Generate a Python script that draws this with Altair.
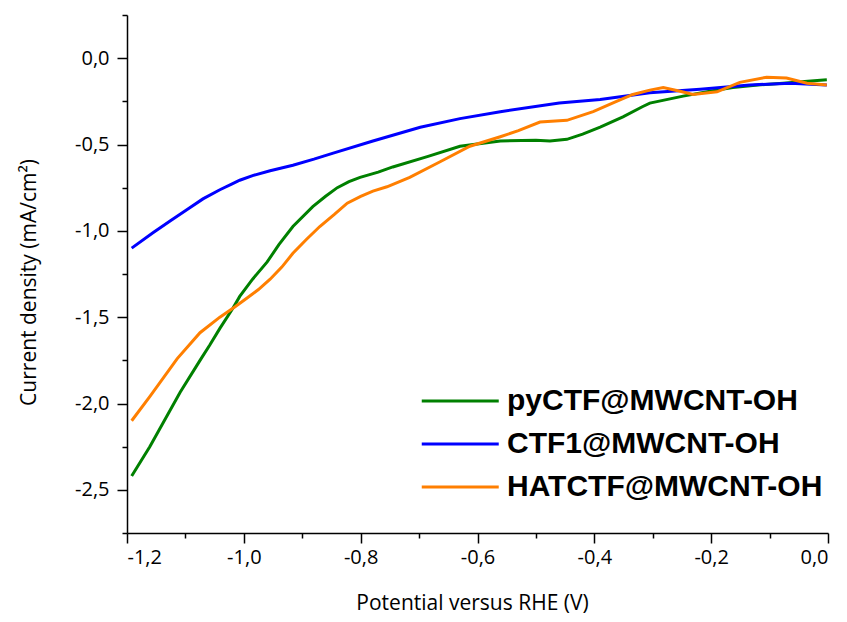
import altair as alt
import pandas as pd

series_names = ["pyCTF@MWCNT-OH", "CTF1@MWCNT-OH", "HATCTF@MWCNT-OH"]
series_colors = ["#008000", "#0000FF", "#FF7F00"]

py_x = [-1.192, -1.161, -1.109, -1.075, -1.058, -1.041, -1.019, -1.007, -0.985, -0.96,
        -0.94, -0.916, -0.882, -0.86, -0.84, -0.82, -0.801, -0.77, -0.745, -0.686,
        -0.63, -0.561, -0.5, -0.476, -0.447, -0.42, -0.39, -0.351, -0.317, -0.305,
        -0.248, -0.2, -0.163, -0.12, -0.077, -0.04, -0.002]
py_y = [-2.42, -2.25, -1.935, -1.75, -1.66, -1.565, -1.45, -1.38, -1.28, -1.18,
        -1.08, -0.975, -0.86, -0.80, -0.75, -0.715, -0.69, -0.66, -0.63, -0.57,
        -0.51, -0.48, -0.475, -0.48, -0.47, -0.44, -0.40, -0.34, -0.28, -0.26,
        -0.22, -0.19, -0.17, -0.155, -0.145, -0.135, -0.125]

ctf1_x = [-1.192, -1.155, -1.125, -1.097, -1.07, -1.041, -1.02, -1.007, -0.985, -0.955,
          -0.916, -0.88, -0.847, -0.779, -0.698, -0.63, -0.561, -0.46, -0.39, -0.305,
          -0.219, -0.134, -0.065, -0.002]
ctf1_y = [-1.10, -1.01, -0.94, -0.877, -0.815, -0.762, -0.728, -0.707, -0.68, -0.652,
          -0.62, -0.585, -0.55, -0.48, -0.40, -0.35, -0.31, -0.26, -0.24, -0.20,
          -0.18, -0.155, -0.145, -0.155]

hat_x = [-1.192, -1.161, -1.114, -1.075, -1.041, -1.015, -0.995, -0.975, -0.955, -0.935,
         -0.916, -0.893, -0.87, -0.845, -0.823, -0.8, -0.779, -0.755, -0.716, -0.664,
         -0.613, -0.561, -0.53, -0.493, -0.447, -0.402, -0.365, -0.334, -0.305, -0.282,
         -0.255, -0.231, -0.19, -0.151, -0.105, -0.071, -0.036, -0.002]
hat_y = [-2.10, -1.96, -1.74, -1.59, -1.50, -1.44, -1.39, -1.34, -1.28, -1.21,
         -1.13, -1.05, -0.975, -0.905, -0.84, -0.80, -0.77, -0.745, -0.69, -0.60,
         -0.51, -0.455, -0.42, -0.37, -0.36, -0.31, -0.255, -0.21, -0.185, -0.17,
         -0.19, -0.21, -0.195, -0.14, -0.11, -0.115, -0.145, -0.155]

x_ticks = [-1.2, -1.1, -1.0, -0.9, -0.8, -0.7, -0.6, -0.5, -0.4, -0.3, -0.2, -0.1, 0.0]
y_ticks = [-2.75, -2.5, -2.25, -2.0, -1.75, -1.5, -1.25, -1.0, -0.75, -0.5, -0.25, 0.0, 0.25]

rows = []
for name, xs, ys in zip(series_names, [py_x, ctf1_x, hat_x], [py_y, ctf1_y, hat_y]):
    for i, (xv, yv) in enumerate(zip(xs, ys)):
        rows.append({"series": name, "x": xv, "y": yv, "order": i})
df = pd.DataFrame(rows)

x_label = ("abs(round(datum.value*10)) % 2 == 0 ? "
           "replace(replace(format(datum.value, '.1f'), '.', ','), '\u2212', '-') : ''")
y_label = ("abs(round(datum.value*4)) % 2 == 0 ? "
           "replace(replace(format(datum.value, '.1f'), '.', ','), '\u2212', '-') : ''")

chart = alt.Chart(df).mark_line(strokeWidth=3).encode(
    x=alt.X("x:Q", scale=alt.Scale(domain=[-1.2, 0.0], nice=False, zero=False),
            axis=alt.Axis(values=x_ticks, labelExpr=x_label,
                          tickSize={"condition": {"test": "abs(round(datum.value*10)) % 2 == 0", "value": 10}, "value": 5},
                          title="Potential versus RHE (V)", titleX=345, titleY=76,
                          titleBaseline="alphabetic", labelPadding=4)),
    y=alt.Y("y:Q", scale=alt.Scale(domain=[-2.75, 0.25], nice=False, zero=False),
            axis=alt.Axis(values=y_ticks, labelExpr=y_label,
                          tickSize={"condition": {"test": "abs(round(datum.value*4)) % 2 == 0", "value": 10}, "value": 5},
                          title="Current density (mA/cm\u00b2)", titleX=-98, titleY=267,
                          titleAngle=-90, titleBaseline="middle", titleAlign="center",
                          labelPadding=8)),
    color=alt.Color("series:N", scale=alt.Scale(domain=series_names, range=series_colors),
                    sort=series_names,
                    legend=alt.Legend(title=None, orient="none", legendX=293, legendY=365,
                                      symbolType="M-1,0H3", symbolSize=1482, symbolStrokeWidth=3,
                                      symbolFillColor="transparent",
                                      labelFont="Liberation Sans", labelFontSize=30,
                                      labelFontWeight="bold", labelColor="black",
                                      labelOffset=45, rowPadding=7, labelLimit=0)),
    order=alt.Order("order:Q"),
).properties(
    width=701, height=518,
    autosize=alt.AutoSizeParams(type="none"),
    padding={"left": 119, "top": 7, "right": 11, "bottom": 81},
).configure_view(stroke=None).configure_axis(
    grid=False, domainColor="black", domainWidth=1.5, tickColor="black", tickWidth=1.5,
    labelFont="Open Sans", labelFontSize=20, labelColor="black",
    titleFont="Open Sans", titleFontSize=21, titleFontWeight="normal", titleColor="black",
)

chart.save("out.html", embed_options={"renderer": "svg", "actions": False})
